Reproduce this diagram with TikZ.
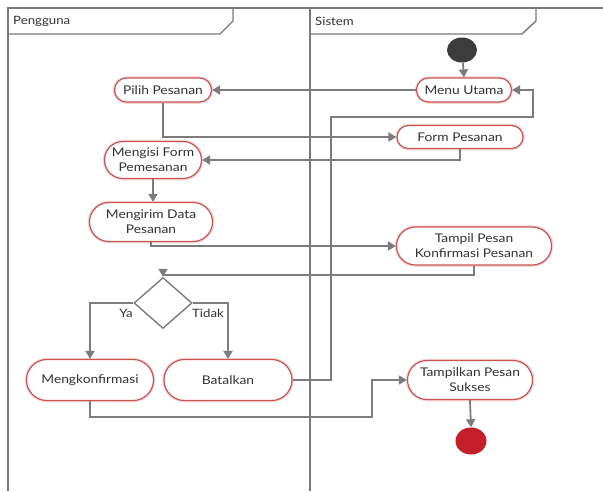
\documentclass[tikz,border=0pt]{standalone}
\usepackage{fontspec}
\setmainfont[FakeStretch=1.15]{Lato}
\usetikzlibrary{shapes.misc,shapes.geometric,arrows.meta}
\definecolor{lanegray}{HTML}{7A7A7A}
\definecolor{flowgray}{HTML}{7C7C7C}
\definecolor{pillred}{HTML}{C85454}
\definecolor{glowred}{HTML}{F3D6D6}
\definecolor{txtgray}{HTML}{333333}
\definecolor{startdark}{HTML}{3C3C3C}
\definecolor{endred}{HTML}{C41E2A}
\tikzset{
  lane/.style={draw=lanegray, line width=1.4pt},
  act/.style={rounded rectangle, draw=pillred, line width=1.2pt, fill=white,
    preaction={draw=glowred, line width=3.5pt},
    inner sep=0pt, align=center, text=txtgray, font=\fontsize{12}{15}\selectfont},
  decision/.style={diamond, draw=flowgray, line width=1.4pt, fill=white, inner sep=0pt,
    minimum width=58pt, minimum height=51pt},
  flow/.style={draw=flowgray, line width=1.8pt, -{Triangle[width=9pt,length=8pt]}},
  guard/.style={text=txtgray, font=\fontsize{11.5}{13}\selectfont, inner sep=0pt},
  lanetitle/.style={text=txtgray, font=\fontsize{11.5}{13}\selectfont, anchor=west, inner sep=0pt}
}
\begin{document}
\begin{tikzpicture}[x=1pt, y=-1pt]
\useasboundingbox (0,0) rectangle (603,491);
\fill[white] (0,0) rectangle (603,491);

% swimlane frame and headers
\draw[lane] (8,491) -- (8,8) -- (603,8);
\draw[lane] (310,8) -- (310,491);
\draw[lane] (8,34) -- (220,34) -- (233,21) -- (233,8);
\draw[lane] (310,34) -- (522,34) -- (536,21) -- (536,8);
\node[lanetitle] (lane1) at (13,21) {Pengguna};
\node[lanetitle] (lane2) at (315,21) {Sistem};

% start and end
\node[ellipse, fill=startdark, minimum width=30pt, minimum height=25pt, inner sep=0pt] (start) at (462,50) {};
\node[ellipse, fill=endred, minimum width=31pt, minimum height=27pt, inner sep=0pt] (stop) at (471,441) {};

% activities
\node[act, minimum width=97pt, minimum height=24pt] (pilih) at (163,90) {Pilih Pesanan};
\node[act, minimum width=95pt, minimum height=24pt] (menu) at (464,90) {Menu Utama};
\node[act, minimum width=126pt, minimum height=23pt] (form) at (460,137) {Form Pesanan};
\node[act, minimum width=97pt, minimum height=37pt] (isi) at (153,160) {Mengisi Form\\Pemesanan};
\node[act, minimum width=123pt, minimum height=39pt] (kirim) at (151,222) {Mengirim Data\\Pesanan};
\node[act, minimum width=155pt, minimum height=38pt] (tampil) at (474,246) {Tampil Pesan\\Konfirmasi Pesanan};
\node[decision] (dia) at (163,303) {};
\node[act, minimum width=127pt, minimum height=41pt] (konf) at (90,380) {Mengkonfirmasi};
\node[act, minimum width=128pt, minimum height=41pt] (batal) at (228,380) {Batalkan};
\node[act, minimum width=125pt, minimum height=39pt] (sukses) at (470,380) {Tampilkan Pesan\\Sukses};

% bend points
\coordinate (back1) at (331,117);
\coordinate (back2) at (533,117);
\coordinate (okbend) at (372,380);

% connectors
\draw[flow] (start) -- (menu.north);
\draw[flow] (menu.west) -- (pilih.east);
\draw[flow] (pilih.south) |- (form.west);
\draw[flow] (form.south) |- (isi.east);
\draw[flow] (isi.south) -- (isi.south |- kirim.north);
\draw[flow] (kirim.south) |- (tampil.west);
\draw[flow] (tampil.south) -- ++(0,9) -| (dia.north);
\draw[flow] (dia.west) -| (konf.north);
\draw[flow] (dia.east) -| (batal.north);
\draw[flow] (batal.east) -| (back1) -- (back2) |- (menu.east);
\draw[flow] (konf.south) -- ++(0,16) -| (okbend) -- (sukses.west);
\draw[flow] (sukses.south) -- (stop.north);

% guards
\node[guard] (ya) at (126,313) {Ya};
\node[guard] (tidak) at (208,313) {Tidak};
\end{tikzpicture}
\end{document}
